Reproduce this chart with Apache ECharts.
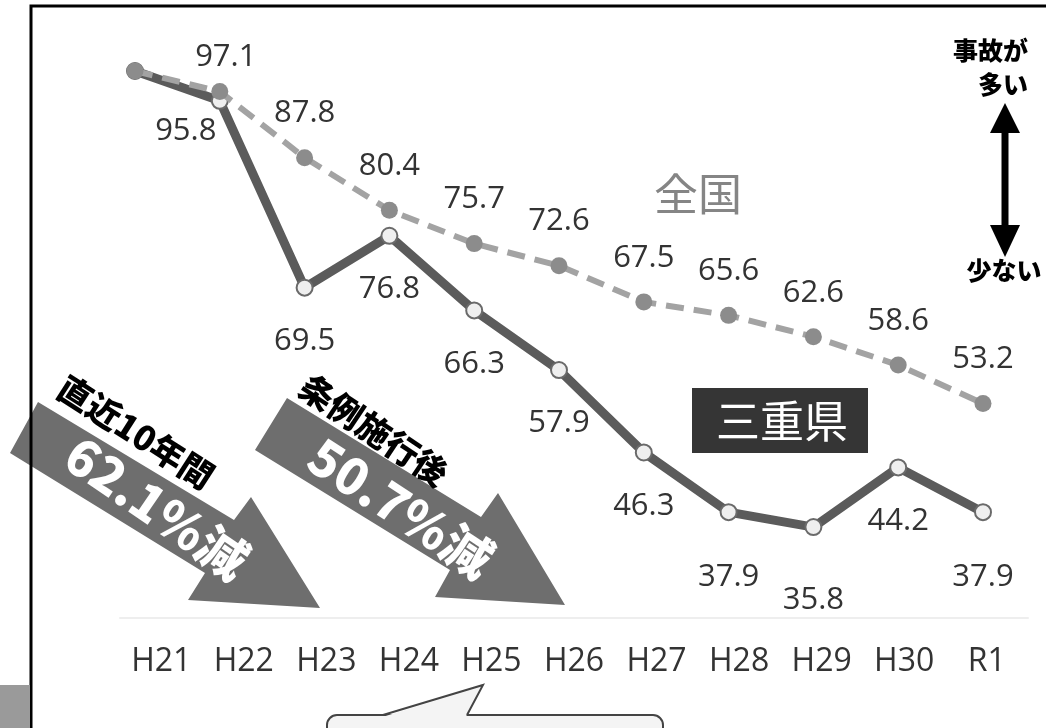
<!DOCTYPE html>
<html>
<head>
<meta charset="utf-8">
<script src="https://cdn.jsdelivr.net/npm/echarts@6/dist/echarts.min.js"></script>
<style>
html,body{margin:0;padding:0;background:#fff;}
#chart{width:1046px;height:728px;}
</style>
</head>
<body>
<div id="chart"></div>
<script>
// ---- data ----
const categories = ['H21','H22','H23','H24','H25','H26','H27','H28','H29','H30','R1'];
const zenkoku = [100, 97.1, 87.8, 80.4, 75.7, 72.6, 67.5, 65.6, 62.6, 58.6, 53.2];
const mie = [100, 95.8, 69.5, 76.8, 66.3, 57.9, 46.3, 37.9, 35.8, 44.2, 37.9];
const seriesNames = ['全国', '三重県'];

// ---- label placement (style only) ----
const zenLabelOffset = [null, [6, 10], [0,0], [0,0], [0,0], [0,0], [0,0], [0,0], [0,0], [0,0], [0,0]];
const mieLabelOffset = [null, [-34, -23], [0,0], [0,0], [0,0], [0,0], [0,0], [0,12], [0,20], [0,0], [0,12]];

const numFont = "'Open Sans', 'Noto Sans', sans-serif";

function buildData(vals, offsets, pos, dist) {
  return vals.map((v, i) => {
    if (offsets[i] === null) return { value: v, label: { show: false } };
    return { value: v, label: { show: true, position: pos, distance: dist, offset: offsets[i] } };
  });
}

const chart = echarts.init(document.getElementById('chart'));

const option = {
  backgroundColor: '#ffffff',
  animation: false,
  grid: [
    { left: 135, width: 848, top: 71, height: 547 },
    { left: 120, width: 908, top: 71, height: 547 }
  ],
  xAxis: [
    { type: 'category', gridIndex: 0, data: categories, boundaryGap: false,
      axisLine: { show: false }, axisTick: { show: false }, axisLabel: { show: false }, splitLine: { show: false } },
    { type: 'category', gridIndex: 1, data: categories, boundaryGap: true,
      axisLine: { show: true, lineStyle: { color: '#eeeeee', width: 2 } },
      axisTick: { show: false },
      axisLabel: { show: true, color: '#333333', fontSize: 32, fontFamily: numFont, margin: 28 },
      splitLine: { show: false } }
  ],
  yAxis: [
    { type: 'value', gridIndex: 0, min: 23, max: 100, show: false, splitLine: { show: false } },
    { type: 'value', gridIndex: 1, min: 23, max: 100, show: false, splitLine: { show: false } }
  ],
  series: [
    {
      name: seriesNames[1], type: 'line', xAxisIndex: 0, yAxisIndex: 0,
      data: buildData(mie, mieLabelOffset, 'bottom', 29),
      symbol: 'circle', symbolSize: 16,
      lineStyle: { color: '#5b5b5b', width: 9 },
      itemStyle: { color: '#efefef', borderColor: '#6a6a6a', borderWidth: 2 },
      label: { color: '#333333', fontSize: 31, fontFamily: numFont },
      z: 2
    },
    {
      name: seriesNames[0], type: 'line', xAxisIndex: 0, yAxisIndex: 0,
      data: buildData(zenkoku, zenLabelOffset, 'top', 20),
      symbol: 'circle', symbolSize: 17,
      lineStyle: { color: '#a3a3a3', width: 6, type: [18, 10] },
      itemStyle: { color: '#8c8c8c', borderWidth: 0 },
      label: { color: '#333333', fontSize: 31, fontFamily: numFont },
      z: 3
    }
  ],
  graphic: [
    // frame
    { type: 'rect', shape: { x: 31, y: 6, width: 1040, height: 740 }, style: { fill: 'none', stroke: '#000', lineWidth: 3 }, z: 100 },
    { type: 'rect', shape: { x: 0, y: 685, width: 30, height: 43 }, style: { fill: '#9a9a9a' }, z: 100 },
    // big arrows
    { type: 'polygon', shape: { points: [[38,402],[234,520],[251,497],[320,608],[188,600],[205,573],[10,453]] }, style: { fill: '#6e6e6e' }, z: 50 },
    { type: 'polygon', shape: { points: [[287,398],[481,517],[498,493],[565,605],[435,597],[450,570],[255,450]] }, style: { fill: '#6e6e6e' }, z: 50 },
    { type: 'text', x: 136, y: 432, rotation: -0.57, style: { text: '直近10年間', fill: '#000', font: "900 34px 'Noto Sans CJK JP'", align: 'center', verticalAlign: 'middle' }, z: 60 },
    { type: 'text', x: 157, y: 508, rotation: -0.6, style: { text: '62.1%減', fill: '#fff', font: "900 50px 'Noto Sans CJK JP'", align: 'center', verticalAlign: 'middle' }, z: 60 },
    { type: 'text', x: 374, y: 430, rotation: -0.59, style: { text: '条例施行後', fill: '#000', font: "900 34px 'Noto Sans CJK JP'", align: 'center', verticalAlign: 'middle' }, z: 60 },
    { type: 'text', x: 401, y: 508, rotation: -0.58, style: { text: '50.7%減', fill: '#fff', font: "900 50px 'Noto Sans CJK JP'", align: 'center', verticalAlign: 'middle' }, z: 60 },
    // series name tags
    { type: 'text', x: 698, y: 194, style: { text: '全国', fill: '#858585', font: "44px 'Noto Sans CJK JP'", align: 'center', verticalAlign: 'middle' }, z: 60 },
    { type: 'rect', shape: { x: 692, y: 388, width: 176, height: 65 }, style: { fill: '#353535' }, z: 60 },
    { type: 'text', x: 782, y: 421, style: { text: '三重県', fill: '#fff', font: "44px 'Noto Sans CJK JP'", align: 'center', verticalAlign: 'middle' }, z: 61 },
    // right legend arrow
    { type: 'text', x: 1028, y: 50, style: { text: '事故が', fill: '#000', font: "900 25px 'Noto Sans CJK JP'", align: 'right', verticalAlign: 'middle' }, z: 60 },
    { type: 'text', x: 1028, y: 84, style: { text: '多い', fill: '#000', font: "900 25px 'Noto Sans CJK JP'", align: 'right', verticalAlign: 'middle' }, z: 60 },
    { type: 'text', x: 1004, y: 270, style: { text: '少ない', fill: '#000', font: "900 25px 'Noto Sans CJK JP'", align: 'center', verticalAlign: 'middle' }, z: 60 },
    { type: 'polygon', shape: { points: [[1005,103],[1020,133],[990,133]] }, style: { fill: '#000' }, z: 60 },
    { type: 'polygon', shape: { points: [[990,225],[1020,225],[1005,257]] }, style: { fill: '#000' }, z: 60 },
    { type: 'rect', shape: { x: 1001.5, y: 130, width: 7, height: 97 }, style: { fill: '#000' }, z: 60 },
    // speech bubble
    { type: 'rect', shape: { x: 327, y: 715, width: 336, height: 40, r: 10 }, style: { fill: '#f4f4f4', stroke: '#444', lineWidth: 2 }, z: 60 },
    { type: 'polygon', shape: { points: [[384,716.5],[483,686],[466,716.5]] }, style: { fill: '#f4f4f4' }, z: 61 },
    { type: 'polyline', shape: { points: [[383,715],[483,685],[467,715]] }, style: { fill: 'none', stroke: '#444', lineWidth: 2 }, z: 62 }
  ]
};
chart.setOption(option);
</script>
</body>
</html>
